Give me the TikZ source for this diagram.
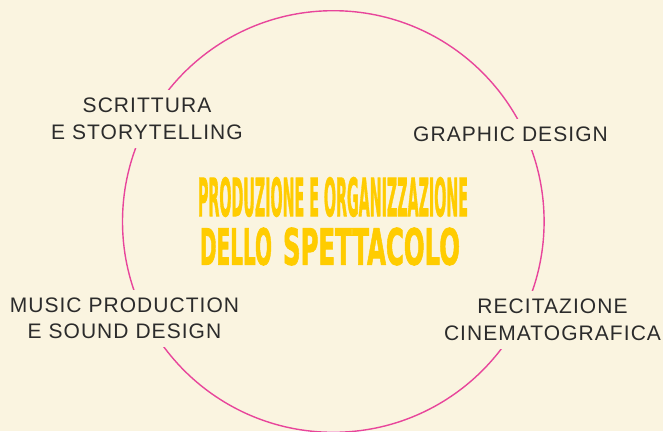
\documentclass[tikz,border=0pt]{standalone}
\usepackage{fontspec}
\setmainfont{Liberation Sans}[LetterSpace=5]
\newfontfamily\titlefont{DejaVu Sans}[FakeBold=2]
\usepackage{graphicx}

\definecolor{cream}{HTML}{FAF4E0}
\definecolor{ringpink}{HTML}{E8459B}
\definecolor{gold}{HTML}{FFCC00}
\definecolor{ink}{HTML}{2B2B2B}

\tikzset{
  area/.style={fill=cream,text=ink,inner sep=8pt,align=center,
    font=\fontsize{21}{26.5}\selectfont},
  title/.style={inner sep=0pt,text=gold,font=\titlefont\bfseries}
}

\begin{document}
\begin{tikzpicture}[x=1pt,y=-1pt]
\fill[cream] (0,0) rectangle (663,431);
\clip (0,0) rectangle (663,431);
\draw[ringpink,line width=1.4pt] (333.3,221.5) circle [radius=210.8];
\node (write) at (147,119) [area] {SCRITTURA\\E STORYTELLING};
\node (graphic) at (510.5,134.5) [area] {GRAPHIC DESIGN};
\node (music) at (124.5,318.5) [area] {MUSIC PRODUCTION\\E SOUND DESIGN};
\node (acting) at (552.5,320) [area] {RECITAZIONE\\CINEMATOGRAFICA};
\node (prod) at (333,197) [title]
  {\resizebox{270pt}{39pt}{PRODUZIONE E ORGANIZZAZIONE}};
\node (dello) at (236,246.5) [title]
  {\resizebox{72pt}{37pt}{DELLO}};
\node (show) at (371.5,246.5) [title]
  {\resizebox{177pt}{37pt}{SPETTACOLO}};
\end{tikzpicture}
\end{document}
